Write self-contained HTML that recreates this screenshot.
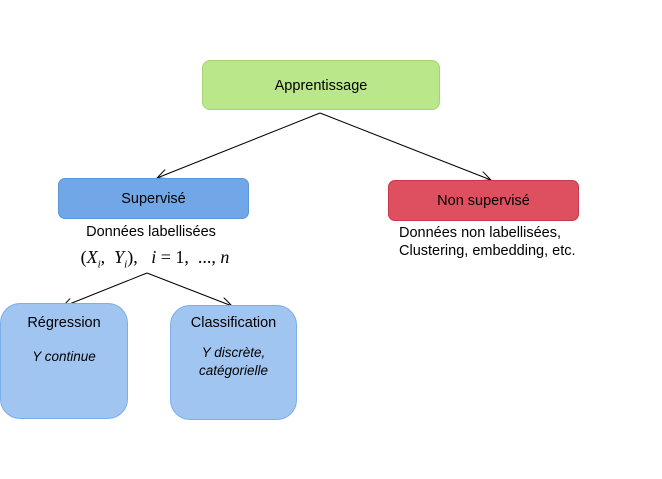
<!DOCTYPE html><html><head><style>
body{margin:0;width:662px;height:479px;background:#fff;position:relative;font-family:"Liberation Sans",sans-serif;overflow:hidden}
.b{position:absolute;box-sizing:border-box;text-align:center;font-size:14.5px;color:#000}
.t{position:absolute;font-size:14.5px;text-align:center;white-space:nowrap}
</style></head><body>
<svg width="662" height="479" style="position:absolute;left:0;top:0">
<defs><marker id="a" markerWidth="12" markerHeight="10" refX="11" refY="5" orient="auto" markerUnits="userSpaceOnUse"><path d="M0,0 L11,5 L0,10" fill="none" stroke="#000" stroke-width="1"/></marker></defs>
<g stroke="#000" stroke-width="1" fill="none">
<line x1="320" y1="113" x2="157" y2="178" marker-end="url(#a)"/>
<line x1="320" y1="113" x2="491" y2="180" marker-end="url(#a)"/>
<line x1="147" y1="273" x2="62" y2="307" marker-end="url(#a)"/>
<line x1="147" y1="273" x2="232" y2="306" marker-end="url(#a)"/>
</g></svg>
<div class="b" style="left:202px;top:60px;width:238px;height:50px;background:#b9e78a;border:1px solid #a3d672;border-radius:8px;line-height:50px">Apprentissage</div>
<div class="b" style="left:58px;top:178px;width:191px;height:41px;background:#72a7e7;border:1px solid #5b95dc;border-radius:7px;line-height:40px">Supervisé</div>
<div class="b" style="left:388px;top:180px;width:191px;height:41px;background:#de4f60;border:1px solid #c9374a;border-radius:7px;line-height:40px">Non supervisé</div>
<div class="t" style="left:51px;top:224px;width:200px">Données labellisées</div>
<div class="t" style="left:45px;top:247px;width:220px;font-family:'Liberation Serif',serif;font-size:18px">(<i>X<sub style="font-size:11px">i</sub></i>,&nbsp; <i>Y<sub style="font-size:11px">i</sub></i>), &nbsp;&nbsp;<i>i</i> = 1, &nbsp;..., <i>n</i></div>
<div class="t" style="left:399px;top:224px;text-align:left;line-height:18px">Données non labellisées,<br>Clustering, embedding, etc.</div>
<div class="b" style="left:0px;top:303px;width:128px;height:116px;background:#a1c5f1;border:1px solid #7eaee9;border-radius:20px;padding-top:11px">Régression<div style="font-style:italic;font-size:13.5px;margin-top:18px">Y continue</div></div>
<div class="b" style="left:170px;top:305px;width:127px;height:115px;background:#a1c5f1;border:1px solid #7eaee9;border-radius:20px;padding-top:9px">Classification<div style="font-style:italic;font-size:13.5px;margin-top:13px;line-height:18px">Y discrète,<br>catégorielle</div></div>
</body></html>
